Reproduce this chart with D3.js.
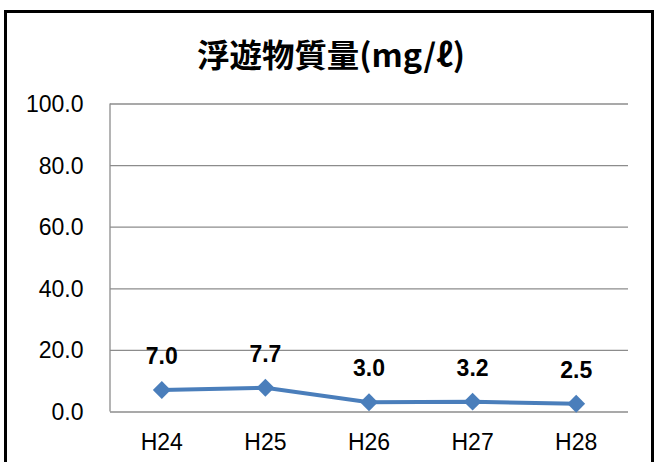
<!DOCTYPE html>
<meta charset="utf-8">
<style>
    body { margin: 0; background: #fff; }
    .grid line { stroke: #8c8c8c; stroke-width: 1.3px; }
    .grid path { stroke-width: 0; }
    .yAxis text, .xAxis text {
        font-family: Arial, "Liberation Sans", sans-serif;
        font-size: 23px;
        fill: #000;
    }
    .yAxis path, .yAxis line, .xAxis path, .xAxis line { display: none; }
    .title {
        font-family: "Noto Sans CJK JP", sans-serif;
        font-weight: bold;
        font-size: 32px;
    }
    .valLabel {
        font-family: Arial, "Liberation Sans", sans-serif;
        font-weight: bold;
        font-size: 23px;
    }
</style>
<body>
    <svg width="656" height="462"></svg>
</body>
<script src="https://d3js.org/d3.v7.min.js"></script>
<script>
    // data
    var years = ["H24", "H25", "H26", "H27", "H28"];
    var values = [7.0, 7.7, 3.0, 3.2, 2.5];
    var yTicks = [0, 20, 40, 60, 80, 100];

    var svg = d3.select("svg");

    // outer frame (bottom edge falls off the picture)
    svg.append("rect")
        .attr("x", 5.5).attr("y", 11.5)
        .attr("width", 647).attr("height", 470)
        .attr("fill", "none")
        .attr("stroke", "#000")
        .attr("stroke-width", 3);

    var plotLeft = 110, plotRight = 628, plotTop = 103.5, plotBottom = 411.5;

    var x = d3.scaleBand().domain(years).range([plotLeft, plotRight]);
    var y = d3.scaleLinear().domain([0, 100]).range([plotBottom, plotTop]);

    // title
    svg.append("text")
        .attr("class", "title")
        .attr("x", 331).attr("y", 67)
        .attr("text-anchor", "middle")
        .attr("textLength", 268)
        .attr("lengthAdjust", "spacingAndGlyphs")
        .text("浮遊物質量(mg/ℓ)");

    // gridlines
    svg.append("g")
        .attr("class", "grid")
        .attr("transform", "translate(" + plotLeft + ",0)")
        .call(d3.axisLeft(y).tickValues(yTicks).tickSize(-(plotRight - plotLeft)).tickFormat(""));

    // y-axis vertical line
    svg.append("line")
        .attr("x1", plotLeft).attr("x2", plotLeft)
        .attr("y1", plotTop).attr("y2", plotBottom)
        .attr("stroke", "#8c8c8c").attr("stroke-width", 1.3);

    // y tick labels
    svg.append("g")
        .attr("class", "yAxis")
        .attr("transform", "translate(" + (plotLeft - 26.5) + ",0)")
        .call(d3.axisLeft(y).tickValues(yTicks).tickSize(0).tickPadding(0).tickFormat(d3.format(".1f")))
        .selectAll("text").attr("dy", "0.35em");

    // x labels
    svg.append("g")
        .attr("class", "xAxis")
        .attr("transform", "translate(0," + plotBottom + ")")
        .call(d3.axisBottom(x).tickSize(0).tickPadding(0))
        .selectAll("text").attr("dy", null).attr("y", 38);

    var cx = function (d, i) { return x(years[i]) + x.bandwidth() / 2; };

    // line
    var line = d3.line()
        .x(function (d, i) { return cx(d, i); })
        .y(function (d) { return y(d); });

    svg.append("path")
        .datum(values)
        .attr("fill", "none")
        .attr("stroke", "#4a7ebb")
        .attr("stroke-width", 4)
        .attr("d", line);

    // diamond markers
    svg.selectAll(".marker")
        .data(values)
        .enter().append("path")
        .attr("class", "marker")
        .attr("fill", "#4a7ebb")
        .attr("d", d3.symbol().type(d3.symbolSquare).size(160))
        .attr("transform", function (d, i) {
            return "translate(" + cx(d, i) + "," + y(d) + ") rotate(45)";
        });

    // value labels
    svg.selectAll(".valLabel")
        .data(values)
        .enter().append("text")
        .attr("class", "valLabel")
        .attr("text-anchor", "middle")
        .attr("x", function (d, i) { return cx(d, i); })
        .attr("y", function (d) { return y(d) - 26; })
        .text(function (d) { return d.toFixed(1); });
</script>
